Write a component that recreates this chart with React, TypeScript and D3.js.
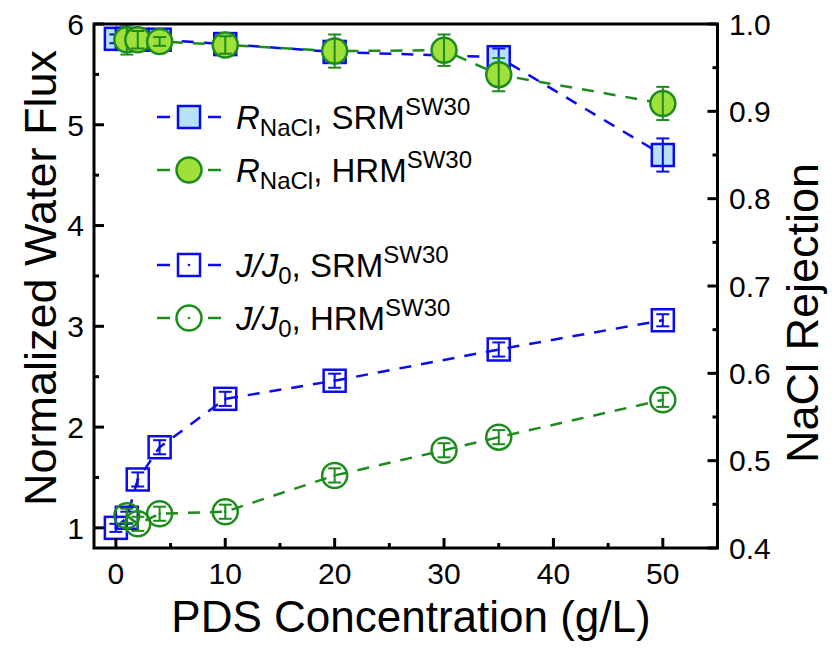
import React from 'react';
import {scaleLinear, line, range} from 'd3';

// data
const srmX = [0, 1, 2, 4, 10, 20, 35, 50];
const srmFlux = [1.0, 1.1, 1.48, 1.8, 2.28, 2.46, 2.77, 3.06];
const srmFluxErr = [0.04, 0.06, 0.07, 0.07, 0.07, 0.07, 0.07, 0.06];
const srmRej = [0.983, 0.983, 0.982, 0.982, 0.977, 0.968, 0.962, 0.85];
const srmRejErr = [0.005, 0.005, 0.005, 0.005, 0.006, 0.008, 0.01, 0.019];

const hrmX = [1, 2, 4, 10, 20, 30, 35, 50];
const hrmFlux = [1.12, 1.04, 1.14, 1.16, 1.52, 1.77, 1.9, 2.27];
const hrmFluxErr = [0.07, 0.07, 0.07, 0.07, 0.07, 0.07, 0.07, 0.07];
const hrmRej = [0.982, 0.982, 0.98, 0.976, 0.969, 0.97, 0.942, 0.909];
const hrmRejErr = [0.017, 0.01, 0.005, 0.01, 0.019, 0.018, 0.019, 0.019];

const xTicks = [0, 10, 20, 30, 40, 50];
const leftTicks = [1, 2, 3, 4, 5, 6];
const rightTicks = [0.4, 0.5, 0.6, 0.7, 0.8, 0.9, 1.0];

const BLUE = '#0a0af0';
const BLUE_FILL = '#b6e2fa';
const GREEN = '#1c8c1c';
const GREEN_FILL = '#9fe03a';
const FONT = 'Liberation Sans, Arial, sans-serif';

const m = {left: 94, right: 717.5, top: 24, bottom: 548};

const x = scaleLinear().domain([-2, 55]).range([m.left, m.right]);
const yL = scaleLinear().domain([0.8, 6]).range([m.bottom, m.top]);
const yR = scaleLinear().domain([0.4, 1.0]).range([m.bottom, m.top]);

type Series = {xs: number[], ys: number[], err: number[], y: any, color: string, fill: string, shape: 'square' | 'circle', dot: boolean};

const Marker = ({cx, cy, shape, color, fill, dot}: any) => (
  <g>
    {shape === 'square'
      ? <rect x={cx - 11} y={cy - 11} width={22} height={22} fill={fill} stroke={color} strokeWidth={2.5}/>
      : <circle cx={cx} cy={cy} r={12.5} fill={fill} stroke={color} strokeWidth={2.5}/>}
    {dot && <circle cx={cx} cy={cy} r={1.3} fill={color}/>}
  </g>
);

const SeriesG = ({s}: {s: Series}) => {
  const pts = s.xs.map((d, i) => [x(d), s.y(s.ys[i])] as [number, number]);
  const path = line()(pts) || '';
  return (
    <g>
      <path d={path} fill="none" stroke={s.color} strokeWidth={2.5} strokeDasharray="12,10"/>
      {pts.map((p, i) => (
        <g key={i}>
          <Marker cx={p[0]} cy={p[1]} shape={s.shape} color={s.color} fill={s.fill} dot={s.dot}/>
          <g stroke={s.color} strokeWidth={2}>
            <line x1={p[0]} x2={p[0]} y1={s.y(s.ys[i] - s.err[i])} y2={s.y(s.ys[i] + s.err[i])}/>
            <line x1={p[0] - 6.5} x2={p[0] + 6.5} y1={s.y(s.ys[i] - s.err[i])} y2={s.y(s.ys[i] - s.err[i])}/>
            <line x1={p[0] - 6.5} x2={p[0] + 6.5} y1={s.y(s.ys[i] + s.err[i])} y2={s.y(s.ys[i] + s.err[i])}/>
          </g>
        </g>
      ))}
    </g>
  );
};

const series: Series[] = [
  {xs: srmX, ys: srmFlux, err: srmFluxErr, y: yL, color: BLUE, fill: 'none', shape: 'square', dot: true},
  {xs: hrmX, ys: hrmFlux, err: hrmFluxErr, y: yL, color: GREEN, fill: 'none', shape: 'circle', dot: true},
  {xs: srmX, ys: srmRej, err: srmRejErr, y: yR, color: BLUE, fill: BLUE_FILL, shape: 'square', dot: false},
  {xs: hrmX, ys: hrmRej, err: hrmRejErr, y: yR, color: GREEN, fill: GREEN_FILL, shape: 'circle', dot: false},
];

const legend = [
  {y: 117, s: series[2], first: 'R', sub: 'NaCl'},
  {y: 170, s: series[3], first: 'R', sub: 'NaCl'},
  {y: 265, s: series[0], first: 'J/J', sub: '0'},
  {y: 318, s: series[1], first: 'J/J', sub: '0'},
];

export default function App() {
  const minorX = range(5, 50, 10);
  const minorL = range(1.5, 6, 1);
  const minorR = range(0.45, 1.0, 0.1);
  return (
    <svg width={835} height={667} style={{position: 'absolute', left: 0, top: 0, background: '#fff'}} fontFamily={FONT}>
      {series.map((s, i) => <SeriesG key={i} s={s}/>)}

      {/* ticks */}
      <g stroke="#000" strokeWidth={3}>
        {xTicks.map(t => <line key={'x' + t} x1={x(t)} x2={x(t)} y1={m.bottom} y2={m.bottom - 10}/>)}
        {minorX.map(t => <line key={'xm' + t} x1={x(t)} x2={x(t)} y1={m.bottom} y2={m.bottom - 5}/>)}
        {leftTicks.map(t => <line key={'l' + t} x1={m.left} x2={m.left + 10} y1={yL(t)} y2={yL(t)}/>)}
        {minorL.map(t => <line key={'lm' + t} x1={m.left} x2={m.left + 5} y1={yL(t)} y2={yL(t)}/>)}
        {rightTicks.map(t => <line key={'r' + t} x1={m.right} x2={m.right - 10} y1={yR(t)} y2={yR(t)}/>)}
        {minorR.map(t => <line key={'rm' + t} x1={m.right} x2={m.right - 5} y1={yR(t)} y2={yR(t)}/>)}
      </g>
      <rect x={m.left} y={m.top} width={m.right - m.left} height={m.bottom - m.top} fill="none" stroke="#000" strokeWidth={3}/>

      {/* tick labels */}
      <g fontSize={30} fill="#000">
        {xTicks.map(t => <text key={t} x={x(t)} y={584} textAnchor="middle">{t}</text>)}
        {leftTicks.map(t => <text key={t} x={84} y={yL(t)} dy="0.36em" textAnchor="end">{t}</text>)}
        {rightTicks.map(t => <text key={t} x={729} y={yR(t)} dy="0.36em">{t.toFixed(1)}</text>)}
      </g>

      {/* axis titles */}
      <text x={411} y={632} fontSize={44} textAnchor="middle">PDS Concentration (g/L)</text>
      <text transform="translate(56,278) rotate(-90)" fontSize={45} textAnchor="middle">Normalized Water Flux</text>
      <text transform="translate(818,313) rotate(-90)" fontSize={45} textAnchor="middle">NaCl Rejection</text>

      {/* legend */}
      {legend.map((l, i) => (
        <g key={i}>
          <g stroke={l.s.color} strokeWidth={2.5}>
            <line x1={157} x2={170} y1={l.y} y2={l.y}/>
            <line x1={208} x2={221} y1={l.y} y2={l.y}/>
          </g>
          <Marker cx={189} cy={l.y} shape={l.s.shape} color={l.s.color} fill={l.s.fill} dot={l.s.dot}/>
          <text x={236} y={l.y + 12} fontSize={33}>
            <tspan fontStyle="italic">{l.first}</tspan>
            <tspan fontSize={24} dy={7}>{l.sub}</tspan>
            <tspan dy={-7}>, {l.s.color === BLUE ? 'SRM' : 'HRM'}</tspan>
            <tspan fontSize={24} dy={-14}>SW30</tspan>
          </text>
        </g>
      ))}
    </svg>
  );
}
